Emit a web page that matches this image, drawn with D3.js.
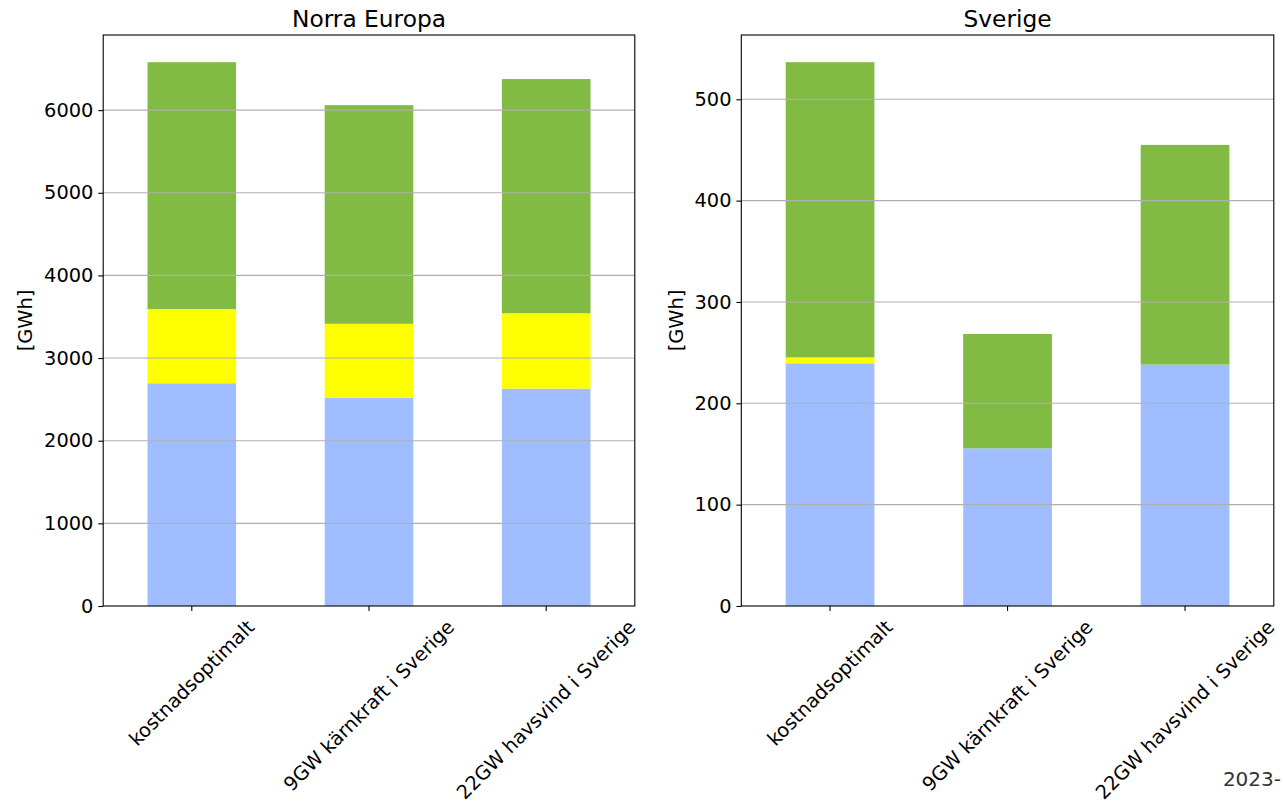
<!DOCTYPE html>
<html>
<head>
<meta charset="utf-8">
<script src="https://cdn.jsdelivr.net/npm/d3@7"></script>
<style>
  body { margin: 0; background: #fff; }
  svg { display: block; }
  text { font-family: "DejaVu Sans", sans-serif; }
</style>
</head>
<body>
<svg id="chart" width="1283" height="805"></svg>
<script>
// Scenarios on the x axis
const categories = ["kostnadsoptimalt", "9GW kärnkraft i Sverige", "22GW havsvind i Sverige"];

// Stacked series, bottom to top (GWh)
const seriesKeys = ["bla", "gul", "gron"];
const seriesColors = ["#a0beff", "#ffff00", "#82bb44"];

// Norra Europa
const nordBla  = [2695, 2520, 2630];
const nordGul  = [898, 895, 912];
const nordGron = [2987, 2645, 2834];

// Sverige
const sveBla  = [239.5, 155.6, 238.2];
const sveGul  = [5.8, 0, 0];
const sveGron = [291.3, 112.8, 216.8];

// Tick values
const nordTicks = [0, 1000, 2000, 3000, 4000, 5000, 6000];
const sveTicks  = [0, 100, 200, 300, 400, 500];

const yLabel = "[GWh]";
const dateText = "2023-";

const svg = d3.select("#chart");
const plotTop = 35, plotBottom = 606;
const tickFont = 19.4, titleFont = 23.3;
const tickLen = 4.9, tickPad = 4.9;

function rows(bla, gul, gron) {
  return categories.map((c, i) => ({ cat: c, bla: bla[i], gul: gul[i], gron: gron[i] }));
}

function drawPanel(x0, x1, title, data, ticks, yLabelX) {
  const g = svg.append("g");
  const x = d3.scaleBand().domain(categories).range([x0, x1])
    .paddingInner(0.5).paddingOuter(0.25);
  const maxTotal = d3.max(data, d => d.bla + d.gul + d.gron);
  const y = d3.scaleLinear().domain([0, maxTotal * 1.05]).range([plotBottom, plotTop]);

  const stacked = d3.stack().keys(seriesKeys)(data);

  // bars
  g.selectAll("g.layer").data(stacked).join("g")
    .attr("class", "layer")
    .attr("fill", (d, i) => seriesColors[i])
    .selectAll("rect").data(d => d).join("rect")
    .attr("x", d => x(d.data.cat))
    .attr("width", x.bandwidth())
    .attr("y", d => y(d[1]))
    .attr("height", d => Math.max(0, y(d[0]) - y(d[1])));

  // horizontal grid, drawn over the bars
  g.append("g").selectAll("line").data(ticks.filter(t => t > 0)).join("line")
    .attr("x1", x0).attr("x2", x1)
    .attr("y1", d => y(d)).attr("y2", d => y(d))
    .attr("stroke", "#b0b0b0").attr("stroke-width", 1.1);

  // y axis
  const ya = g.append("g").attr("transform", `translate(${x0},0)`)
    .call(d3.axisLeft(y).tickValues(ticks).tickFormat(d3.format("d"))
      .tickSize(tickLen).tickPadding(tickPad));
  ya.select(".domain").remove();
  ya.selectAll(".tick line").attr("stroke", "#000").attr("stroke-width", 1.1);
  ya.selectAll(".tick text").attr("font-size", tickFont).attr("fill", "#000")
    .attr("font-family", "DejaVu Sans, sans-serif");

  // x axis ticks
  const xa = g.append("g").attr("transform", `translate(0,${plotBottom})`)
    .call(d3.axisBottom(x).tickSize(tickLen));
  xa.select(".domain").remove();
  xa.selectAll(".tick text").remove();
  xa.selectAll(".tick line").attr("stroke", "#000").attr("stroke-width", 1.1);

  // rotated category labels, bounding box centred under each tick
  const labelTop = plotBottom + tickLen + tickPad;
  categories.forEach(c => {
    const t = g.append("text")
      .attr("font-size", tickFont)
      .attr("text-anchor", "middle")
      .attr("dominant-baseline", "central")
      .text(c);
    const w = t.node().getComputedTextLength();
    const h = tickFont * 1.164;
    const box = (w + h) * Math.SQRT1_2;
    const cx = x(c) + x.bandwidth() / 2;
    const cy = labelTop + box / 2;
    t.attr("transform", `translate(${cx},${cy}) rotate(-45)`);
  });

  // frame
  g.append("rect").attr("x", x0).attr("y", plotTop)
    .attr("width", x1 - x0).attr("height", plotBottom - plotTop)
    .attr("fill", "none").attr("stroke", "#000").attr("stroke-width", 1.1);

  // title
  g.append("text").attr("x", (x0 + x1) / 2).attr("y", plotTop - 8.3)
    .attr("text-anchor", "middle").attr("font-size", titleFont).text(title);

  // y label
  g.append("text")
    .attr("transform", `translate(${yLabelX},${(plotTop + plotBottom) / 2}) rotate(-90)`)
    .attr("text-anchor", "middle").attr("dominant-baseline", "central")
    .attr("font-size", tickFont).text(yLabel);
}

drawPanel(103.2, 634.8, "Norra Europa", rows(nordBla, nordGul, nordGron), nordTicks, 25);
drawPanel(741.3, 1273.8, "Sverige", rows(sveBla, sveGul, sveGron), sveTicks, 676);

// date stamp in the lower right corner
svg.append("text").attr("x", 1281).attr("y", 786)
  .attr("text-anchor", "end")
  .attr("font-family", "Liberation Sans, Arial, sans-serif")
  .attr("font-size", 20).attr("fill", "#333").text(dateText);
</script>
</body>
</html>
